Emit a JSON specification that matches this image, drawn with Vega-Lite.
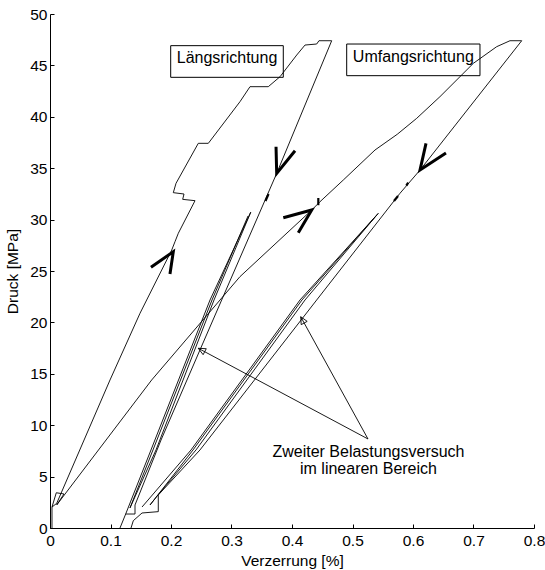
{
  "$schema": "https://vega.github.io/schema/vega-lite/v6.json",
  "width": 484,
  "height": 514,
  "autosize": {"type": "none"},
  "padding": {"left": 50, "top": 14, "right": 11, "bottom": 42},
  "background": "white",
  "config": {
    "view": {"stroke": null},
    "font": "Liberation Sans",
    "axis": {
      "domainColor": "#000",
      "tickColor": "#000",
      "labelColor": "#000",
      "titleColor": "#000",
      "labelFont": "Liberation Sans",
      "titleFont": "Liberation Sans",
      "labelFontSize": 15.5,
      "titleFontSize": 15.5,
      "titleFontWeight": "normal",
      "grid": false,
      "tickSize": -4,
      "labelPadding": 4,
      "labelFlush": false,
      "labelOverlap": false
    }
  },
  "datasets": {
    "curves": [
      {"s": "L1", "i": 0, "x": 0.0033, "y": 0},
      {"s": "L1", "i": 1, "x": 0.0033, "y": 2.04},
      {"s": "L1", "i": 2, "x": 0.0111, "y": 2.40},
      {"s": "L1", "i": 3, "x": 0.0992, "y": 14.40},
      {"s": "L1", "i": 4, "x": 0.1488, "y": 20.89},
      {"s": "L1", "i": 5, "x": 0.2012, "y": 27.04},
      {"s": "L1", "i": 6, "x": 0.2066, "y": 27.85},
      {"s": "L1", "i": 7, "x": 0.2121, "y": 28.67},
      {"s": "L1", "i": 8, "x": 0.2397, "y": 31.84},
      {"s": "L1", "i": 9, "x": 0.2193, "y": 31.97},
      {"s": "L1", "i": 10, "x": 0.2215, "y": 32.49},
      {"s": "L1", "i": 11, "x": 0.2038, "y": 32.62},
      {"s": "L1", "i": 12, "x": 0.2083, "y": 33.53},
      {"s": "L1", "i": 13, "x": 0.2451, "y": 37.42},
      {"s": "L1", "i": 14, "x": 0.2617, "y": 37.42},
      {"s": "L1", "i": 15, "x": 0.3140, "y": 41.47},
      {"s": "L1", "i": 16, "x": 0.3306, "y": 42.93},
      {"s": "L1", "i": 17, "x": 0.3608, "y": 42.93},
      {"s": "L1", "i": 18, "x": 0.3802, "y": 43.90},
      {"s": "L1", "i": 19, "x": 0.4078, "y": 46.01},
      {"s": "L1", "i": 20, "x": 0.4215, "y": 46.98},
      {"s": "L1", "i": 21, "x": 0.4408, "y": 47.08},
      {"s": "L1", "i": 22, "x": 0.4446, "y": 47.40},
      {"s": "L1", "i": 23, "x": 0.4656, "y": 47.40},
      {"s": "L1", "i": 24, "x": 0.3747, "y": 34.50},
      {"s": "L1", "i": 25, "x": 0.2479, "y": 17.32},
      {"s": "L1", "i": 26, "x": 0.1835, "y": 8.56},
      {"s": "L1", "i": 27, "x": 0.1405, "y": 2.24},
      {"s": "L1", "i": 28, "x": 0.1405, "y": 1.36},
      {"s": "L1", "i": 29, "x": 0.1251, "y": 1.36},
      {"s": "L1", "i": 30, "x": 0.1157, "y": 0},
      {"s": "U1", "i": 0, "x": 0.0033, "y": 2.04},
      {"s": "U1", "i": 1, "x": 0.0104, "y": 3.43},
      {"s": "U1", "i": 2, "x": 0.0231, "y": 3.31},
      {"s": "U1", "i": 3, "x": 0.0111, "y": 2.24},
      {"s": "U1", "i": 4, "x": 0.1681, "y": 14.40},
      {"s": "U1", "i": 5, "x": 0.3140, "y": 24.45},
      {"s": "U1", "i": 6, "x": 0.4326, "y": 30.93},
      {"s": "U1", "i": 7, "x": 0.4463, "y": 31.74},
      {"s": "U1", "i": 8, "x": 0.4848, "y": 33.85},
      {"s": "U1", "i": 9, "x": 0.5372, "y": 36.77},
      {"s": "U1", "i": 10, "x": 0.5740, "y": 38.30},
      {"s": "U1", "i": 11, "x": 0.6061, "y": 39.85},
      {"s": "U1", "i": 12, "x": 0.6446, "y": 41.96},
      {"s": "U1", "i": 13, "x": 0.6997, "y": 45.20},
      {"s": "U1", "i": 14, "x": 0.7383, "y": 46.82},
      {"s": "U1", "i": 15, "x": 0.7603, "y": 47.40},
      {"s": "U1", "i": 16, "x": 0.7797, "y": 47.40},
      {"s": "U1", "i": 17, "x": 0.6116, "y": 34.82},
      {"s": "U1", "i": 18, "x": 0.5785, "y": 32.56},
      {"s": "U1", "i": 19, "x": 0.4408, "y": 22.18},
      {"s": "U1", "i": 20, "x": 0.2479, "y": 7.59},
      {"s": "U1", "i": 21, "x": 0.1790, "y": 3.21},
      {"s": "U1", "i": 22, "x": 0.1790, "y": 1.59},
      {"s": "U1", "i": 23, "x": 0.1521, "y": 1.46},
      {"s": "U1", "i": 24, "x": 0.1377, "y": 0.71},
      {"s": "U1", "i": 25, "x": 0.1339, "y": 0},
      {"s": "L2", "i": 0, "x": 0.1251, "y": 1.36},
      {"s": "L2", "i": 1, "x": 0.1669, "y": 7.59},
      {"s": "L2", "i": 2, "x": 0.2645, "y": 22.18},
      {"s": "L2", "i": 3, "x": 0.3318, "y": 30.72},
      {"s": "L2", "i": 4, "x": 0.2711, "y": 22.18},
      {"s": "L2", "i": 5, "x": 0.1752, "y": 7.59},
      {"s": "L2", "i": 6, "x": 0.1322, "y": 1.95},
      {"s": "L2", "i": 7, "x": 0.1702, "y": 7.59},
      {"s": "L2", "i": 8, "x": 0.2678, "y": 22.18},
      {"s": "L2", "i": 9, "x": 0.3273, "y": 30.35},
      {"s": "U2", "i": 0, "x": 0.1521, "y": 2.04},
      {"s": "U2", "i": 1, "x": 0.2331, "y": 7.59},
      {"s": "U2", "i": 2, "x": 0.4132, "y": 22.18},
      {"s": "U2", "i": 3, "x": 0.5426, "y": 30.61},
      {"s": "U2", "i": 4, "x": 0.4215, "y": 22.18},
      {"s": "U2", "i": 5, "x": 0.2413, "y": 7.59},
      {"s": "U2", "i": 6, "x": 0.1785, "y": 3.21},
      {"s": "U2", "i": 7, "x": 0.1653, "y": 2.24},
      {"s": "U2", "i": 8, "x": 0.2364, "y": 7.59},
      {"s": "U2", "i": 9, "x": 0.4165, "y": 22.18},
      {"s": "U2", "i": 10, "x": 0.5372, "y": 30.25}
    ],
    "arrows": [
      {"s": "AL1", "i": 0, "x": 0.1669, "y": 25.36},
      {"s": "AL1", "i": 1, "x": 0.2038, "y": 26.88},
      {"s": "AL1", "i": 2, "x": 0.1983, "y": 24.71},
      {"s": "AL2", "i": 0, "x": 0.3736, "y": 37.09},
      {"s": "AL2", "i": 1, "x": 0.3747, "y": 34.50},
      {"s": "AL2", "i": 2, "x": 0.4050, "y": 36.70},
      {"s": "AU1", "i": 0, "x": 0.3856, "y": 30.18},
      {"s": "AU1", "i": 1, "x": 0.4326, "y": 30.93},
      {"s": "AU1", "i": 2, "x": 0.4104, "y": 28.73},
      {"s": "AU2", "i": 0, "x": 0.6215, "y": 37.42},
      {"s": "AU2", "i": 1, "x": 0.6116, "y": 34.82},
      {"s": "AU2", "i": 2, "x": 0.6545, "y": 36.48}
    ],
    "marks": [
      {"s": "M1", "i": 0, "x": 0.3612, "y": 32.49},
      {"s": "M1", "i": 1, "x": 0.3562, "y": 31.81},
      {"s": "M2", "i": 0, "x": 0.4435, "y": 32.10},
      {"s": "M2", "i": 1, "x": 0.4435, "y": 31.40},
      {"s": "M3", "i": 0, "x": 0.5752, "y": 32.30},
      {"s": "M3", "i": 1, "x": 0.5686, "y": 31.81},
      {"s": "M4", "i": 0, "x": 0.5920, "y": 33.60},
      {"s": "M4", "i": 1, "x": 0.5890, "y": 33.30}
    ],
    "anno": [
      {"s": "N1", "i": 0, "x": 0.5256, "y": 8.66},
      {"s": "N1", "i": 1, "x": 0.2451, "y": 17.48},
      {"s": "N2", "i": 0, "x": 0.5256, "y": 8.66},
      {"s": "N2", "i": 1, "x": 0.4144, "y": 20.55},
      {"s": "H1", "i": 0, "x": 0.2531, "y": 16.86},
      {"s": "H1", "i": 1, "x": 0.2451, "y": 17.48},
      {"s": "H1", "i": 2, "x": 0.2583, "y": 17.44},
      {"s": "H1", "i": 3, "x": 0.2531, "y": 16.86},
      {"s": "H2", "i": 0, "x": 0.4152, "y": 19.78},
      {"s": "H2", "i": 1, "x": 0.4144, "y": 20.55},
      {"s": "H2", "i": 2, "x": 0.4251, "y": 20.10},
      {"s": "H2", "i": 3, "x": 0.4152, "y": 19.78}
    ],
    "boxes": [
      {"x": 0.1995, "x2": 0.3856, "y": 46.92, "y2": 43.84, "tx": 0.2926, "ty": 45.2, "t": "Längsrichtung"},
      {"x": 0.4904, "x2": 0.7107, "y": 47.08, "y2": 44.0, "tx": 0.6005, "ty": 45.33, "t": "Umfangsrichtung"}
    ],
    "notes": [
      {"x": 0.5264, "y": 6.94, "t": "Zweiter Belastungsversuch"},
      {"x": 0.5264, "y": 5.22, "t": "im linearen Bereich"}
    ]
  },
  "encoding": {
    "x": {
      "field": "x", "type": "quantitative",
      "scale": {"domain": [0, 0.8], "nice": false, "zero": false},
      "axis": {
        "title": "Verzerrung [%]",
        "values": [0, 0.1, 0.2, 0.3, 0.4, 0.5, 0.6, 0.7, 0.8],
        "labelExpr": "format(datum.value, '~g')",
        "labelPadding": 9,
        "titlePadding": 5
      }
    },
    "y": {
      "field": "y", "type": "quantitative",
      "scale": {"domain": [0, 50], "nice": false, "zero": false},
      "axis": {
        "title": "Druck [MPa]",
        "values": [0, 5, 10, 15, 20, 25, 30, 35, 40, 45, 50],
        "labelPadding": 7,
        "titlePadding": 9
      }
    }
  },
  "layer": [
    {
      "data": {"name": "boxes"},
      "mark": {"type": "rect", "fill": "white", "stroke": "#000", "strokeWidth": 1},
      "encoding": {"x2": {"field": "x2"}, "y2": {"field": "y2"}}
    },
    {
      "data": {"name": "boxes"},
      "mark": {"type": "text", "fontSize": 16, "font": "Liberation Sans", "color": "#000", "align": "center", "baseline": "alphabetic"},
      "encoding": {
        "x": {"field": "tx", "type": "quantitative"},
        "y": {"field": "ty", "type": "quantitative"},
        "text": {"field": "t"}
      }
    },
    {
      "data": {"name": "curves"},
      "mark": {"type": "line", "color": "#000", "strokeWidth": 0.9},
      "encoding": {"detail": {"field": "s"}, "order": {"field": "i", "type": "quantitative"}}
    },
    {
      "data": {"name": "arrows"},
      "mark": {"type": "line", "color": "#000", "strokeWidth": 3},
      "encoding": {"detail": {"field": "s"}, "order": {"field": "i", "type": "quantitative"}}
    },
    {
      "data": {"name": "marks"},
      "mark": {"type": "line", "color": "#000", "strokeWidth": 2.2},
      "encoding": {"detail": {"field": "s"}, "order": {"field": "i", "type": "quantitative"}}
    },
    {
      "data": {"name": "anno"},
      "mark": {"type": "line", "color": "#000", "strokeWidth": 0.9},
      "encoding": {"detail": {"field": "s"}, "order": {"field": "i", "type": "quantitative"}}
    },
    {
      "data": {"name": "notes"},
      "mark": {"type": "text", "fontSize": 16, "font": "Liberation Sans", "color": "#000", "align": "center", "baseline": "alphabetic"},
      "encoding": {"text": {"field": "t"}}
    }
  ]
}
